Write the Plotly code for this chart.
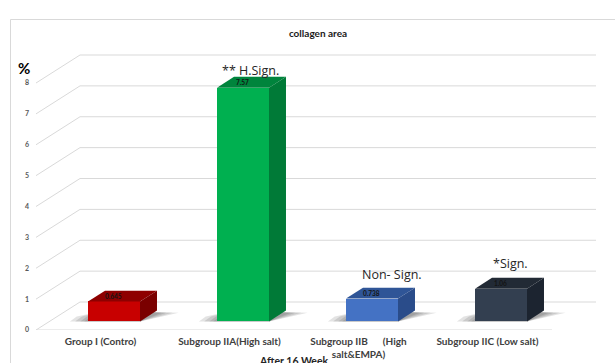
import plotly.graph_objects as go

# ---- data -------------------------------------------------------------
groups = [
    "Group I (Contro)",
    "Subgroup IIA(High salt)",
    "Subgroup IIB\u2003\u2003(High<br>salt&EMPA)",
    "Subgroup IIC (Low salt)",
]
collagen_pct = [0.645, 7.57, 0.738, 1.06]
value_labels = ["0.645", "7.57", "0.738", "1.06"]
significance = ["", "** H.Sign.", "Non- Sign.", "*Sign."]
y_ticks = [0, 1, 2, 3, 4, 5, 6, 7, 8]

front_colors = ["#C80000", "#00B050", "#4472C4", "#333F50"]
top_colors = ["#8E0000", "#00843C", "#2F5597", "#222A35"]
side_colors = ["#7A0000", "#007A37", "#2A4C8A", "#1C2430"]

# ---- pseudo-3D geometry (oblique projection, in axis units) -----------
W, H = 615, 363
ML, MB = 36, 33
PX_PER_X = 129.0
PX_PER_Y = 30.875
X0 = -0.5
X1 = X0 + (W - ML) / PX_PER_X
Y1 = (H - MB) / PX_PER_Y

DX = 44 / PX_PER_X          # full floor depth, horizontal shift
DY = 28 / PX_PER_Y          # full floor depth, vertical shift
FRONT = 0.307               # depth fraction of the bars' front faces
BACK = 0.693                # depth fraction of the bars' back faces
BAR_W = 0.403
FLOOR_L, FLOOR_R = -0.5, 3.5

sdx = (BACK - FRONT) * DX
sdy = (BACK - FRONT) * DY
base = FRONT * DY
cx = [i + FRONT * DX for i in range(len(groups))]

fig = go.Figure()

# front faces
fig.add_trace(go.Bar(
    x=cx, y=collagen_pct, base=base, width=BAR_W,
    marker=dict(color=front_colors, line=dict(width=0)),
    hoverinfo="skip", showlegend=False,
))

# top and side faces
for i, v in enumerate(collagen_pct):
    xl, xr = cx[i] - BAR_W / 2, cx[i] + BAR_W / 2
    yt = base + v
    fig.add_trace(go.Scatter(
        x=[xl, xr, xr + sdx, xl + sdx, xl],
        y=[yt, yt, yt + sdy, yt + sdy, yt],
        fill="toself", fillcolor=top_colors[i], mode="lines",
        line=dict(width=0, color=top_colors[i]),
        hoverinfo="skip", showlegend=False,
    ))
    fig.add_trace(go.Scatter(
        x=[xr, xr + sdx, xr + sdx, xr, xr],
        y=[base, base + sdy, yt + sdy, yt, base],
        fill="toself", fillcolor=side_colors[i], mode="lines",
        line=dict(width=0, color=side_colors[i]),
        hoverinfo="skip", showlegend=False,
    ))

shapes = []

# wall gridlines: diagonal on the side wall, horizontal on the back wall
for t in y_ticks:
    shapes.append(dict(
        type="path", layer="below",
        path=f"M {FLOOR_L},{t} L {FLOOR_L + DX},{t + DY} L {FLOOR_R + DX},{t + DY}",
        xref="x", yref="y", line=dict(color="#D9D9D9", width=1),
    ))
# front edge of the floor
shapes.append(dict(type="line", layer="below", xref="x", yref="y",
                   x0=FLOOR_L, x1=FLOOR_R, y0=0, y1=0,
                   line=dict(color="#D9D9D9", width=1)))

# soft floor shadows around each bar
for i in range(len(groups)):
    xl, xr = cx[i] - BAR_W / 2, cx[i] + BAR_W / 2
    for k, grow in enumerate([0.14, 0.10, 0.06, 0.03]):
        a, b = xl - grow, xr + sdx + grow * 1.2
        path = (f"M {a},{base} L {xr},{base} L {b},{base + sdy * 0.8} "
                f"L {xl + sdx},{base + sdy} L {a + sdx * 0.4},{base + sdy * 0.45} Z")
        shapes.append(dict(type="path", layer="below", path=path,
                           xref="x", yref="y", fillcolor="rgba(40,40,40,0.13)",
                           line=dict(width=0)))

# chart frame
def px_x(p):
    return (p - ML) / (W - ML)

def px_y(p):
    return (H - MB - p) / (H - MB)

shapes.append(dict(type="rect", xref="paper", yref="paper",
                   x0=px_x(10.5), x1=px_x(620), y0=px_y(19.5), y1=px_y(380),
                   line=dict(color="#D9D9D9", width=1), layer="below"))

annotations = []
# values on the top faces
for i, v in enumerate(collagen_pct):
    annotations.append(dict(
        x=cx[i] - 0.005, y=base + v + sdy / 2, xref="x", yref="y",
        xanchor="center", yanchor="middle",
        text=value_labels[i], showarrow=False,
        font=dict(family="Lato", size=6.5, color="#141414", weight="bold"),
    ))

# significance notes above the bars
sig_offset = [(0, 0), (0.055, 0.57), (0.155, 0.79), (0.077, 0.83)]
for i, s in enumerate(significance):
    if not s:
        continue
    annotations.append(dict(
        x=cx[i] + sig_offset[i][0], y=base + collagen_pct[i] + sig_offset[i][1],
        xref="x", yref="y", xanchor="center", yanchor="middle",
        text=s, showarrow=False,
        font=dict(family="Open Sans", size=12.5, color="#262626"),
    ))

annotations.append(dict(
    x=px_x(24), y=px_y(68), xref="paper", yref="paper",
    xanchor="center", yanchor="middle", text="%",
    showarrow=False, font=dict(family="Lato", size=15, color="#000000", weight="bold"),
))
annotations.append(dict(
    x=px_x(294), y=px_y(353), xref="paper", yref="paper",
    xanchor="center", yanchor="top",
    text="After 16 Week", showarrow=False,
    font=dict(family="Lato", size=10.5, color="#262626", weight="bold"),
))

fig.update_layout(
    width=W, height=H, autosize=False,
    margin=dict(l=ML, r=0, t=0, b=MB, pad=0),
    paper_bgcolor="white", plot_bgcolor="white",
    title=dict(text="collagen area", x=318 / W, y=1 - 33 / H,
               xanchor="center", yanchor="middle",
               font=dict(family="Lato", size=10, color="#1A1A1A", weight="bold")),
    xaxis=dict(range=[X0, X1], showgrid=False, zeroline=False, showline=False,
               tickmode="array", tickvals=list(range(len(groups))), ticktext=groups,
               ticks="", tickangle=0, ticklabelstandoff=4,
               tickfont=dict(family="Lato", size=10, color="#404040", weight="bold")),
    yaxis=dict(range=[0, Y1], showgrid=False, zeroline=False, showline=False,
               tickmode="array", tickvals=y_ticks, ticks="", ticklabelstandoff=6,
               tickfont=dict(family="Lato", size=7, color="#595959", weight="bold")),
    shapes=shapes, annotations=annotations,
    bargap=0, showlegend=False,
)

fig.write_html("out.html")
